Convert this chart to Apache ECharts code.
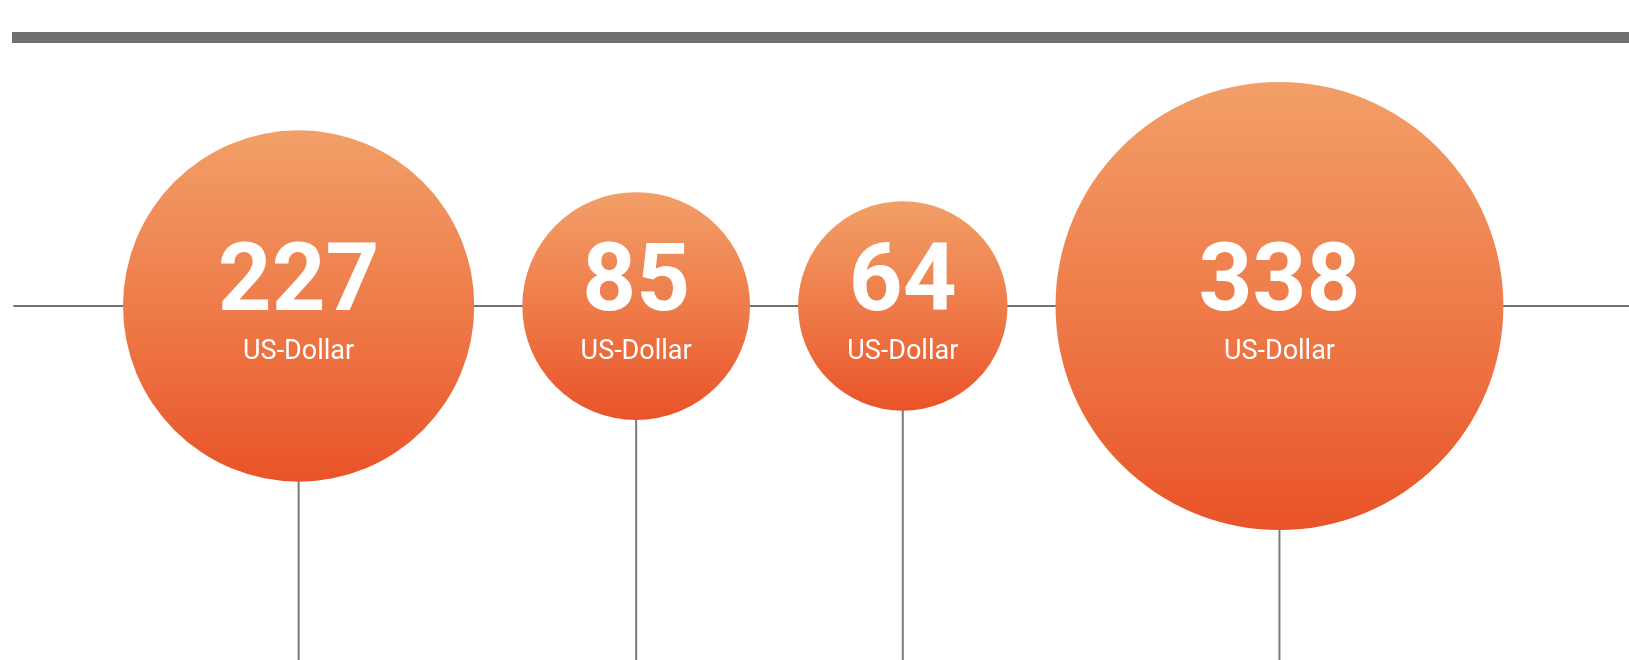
<!DOCTYPE html>
<html>
<head>
<meta charset="utf-8">
<title>Bubbles</title>
<script src="https://cdn.jsdelivr.net/npm/echarts@6/dist/echarts.min.js"></script>
<style>
  html, body { margin: 0; padding: 0; background: #fff; }
  #chart { width: 1629px; height: 660px; }
</style>
</head>
<body>
<div id="chart"></div>
<script>
// 数据
const values = [227, 85, 64, 338]
const unitLabel = 'US-Dollar'

// 气泡直径随数值变化
const bubbleSize = v => 153.8 + 0.87 * v

// 气泡横向依次排列（像素坐标轴）
const startX = 123
const gap = 48
const centers = []
let cursor = startX
values.forEach(v => {
  const d = bubbleSize(v)
  centers.push(cursor + d / 2)
  cursor += d + gap
})

const chart = echarts.init(document.getElementById('chart'))

const option = {
  animation: false,
  graphic: [
    {
      type: 'rect',
      left: 12,
      top: 32,
      shape: { width: 1617, height: 11 },
      style: { fill: '#707070' },
      silent: true
    }
  ],
  grid: { left: 14, right: 0, top: 0, bottom: 0 },
  xAxis: {
    type: 'value',
    min: 14,
    max: 1629,
    axisLine: { show: true, onZero: true, lineStyle: { color: '#737373', width: 2 } },
    axisTick: { show: false },
    axisLabel: { show: false },
    splitLine: { show: false }
  },
  yAxis: {
    type: 'value',
    min: -354,
    max: 306,
    show: false,
    splitLine: { show: false }
  },
  series: [
    {
      // 竖线
      type: 'bar',
      barWidth: 2,
      silent: true,
      z: 1,
      itemStyle: { color: '#7a7a7a' },
      data: centers.map(x => [x, -354])
    },
    {
      type: 'scatter',
      symbol: 'circle',
      silent: true,
      z: 3,
      data: values.map((v, i) => [centers[i], 0, v]),
      symbolSize: d => bubbleSize(d[2]),
      itemStyle: {
        opacity: 1,
        color: new echarts.graphic.LinearGradient(0, 0, 0, 1, [
          { offset: 0, color: '#f29f68' },
          { offset: 0.5, color: '#ee7c4a' },
          { offset: 1, color: '#e95328' }
        ])
      },
      label: {
        show: true,
        position: 'inside',
        formatter: p => '{v|' + p.data[2] + '}\n{u|' + unitLabel + '}',
        rich: {
          v: {
            fontFamily: 'Roboto',
            fontWeight: 'bold',
            fontSize: 94,
            lineHeight: 92,
            color: '#ffffff',
            align: 'center'
          },
          u: {
            fontFamily: 'Roboto',
            fontSize: 27,
            lineHeight: 40,
            color: '#ffffff',
            align: 'center'
          }
        }
      }
    }
  ]
}

chart.setOption(option)
</script>
</body>
</html>
